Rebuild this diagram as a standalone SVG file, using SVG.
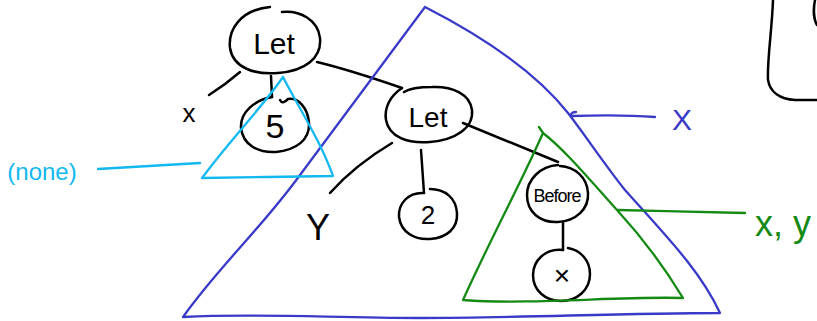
<svg xmlns="http://www.w3.org/2000/svg" width="817" height="321" viewBox="0 0 817 321">
<style>
.k{fill:none;stroke:#000;stroke-width:2.5;stroke-linecap:round;stroke-linejoin:round}
.b{fill:none;stroke:#3a3ac8;stroke-width:2.3;stroke-linecap:round;stroke-linejoin:round}
.c{fill:none;stroke:#12b8f0;stroke-width:2.3;stroke-linecap:round;stroke-linejoin:round}
.g{fill:none;stroke:#148a14;stroke-width:2.3;stroke-linecap:round;stroke-linejoin:round}
.t{font-family:"Liberation Sans",Arial,sans-serif;fill:#000}
</style>
<rect width="817" height="321" fill="#fff"/>
<g id="connectors">
<path class="k" d="M240,72 Q225,85 209,95"/>
<path class="k" d="M271,76 L272,97"/>
<path class="k" d="M317,62 Q350,70 402,88"/>
<path class="k" d="M392,143 Q355,165 330,193"/>
<path class="k" d="M421,150 L424,193"/>
<path class="k" d="M463,123 L558,162"/>
<path class="k" d="M563,223 L563,250"/>
</g>
<g id="let1">
<path class="k" d="M270,7 C240,10 228,30 230,48 C233,68 255,75 278,73 C305,71 322,58 320,38 C318,20 300,10 282,12"/>
<text class="t" x="274" y="54" font-size="30" text-anchor="middle">Let</text>
</g>
<g id="x-label"><text class="t" x="189" y="122" font-size="26" text-anchor="middle">x</text></g>
<g id="n5">
<path class="k" d="M272,97 C255,100 240,112 241,128 C243,145 258,153 276,152 C296,150 310,140 309,123 C308,108 298,97 288,99 C285,102 282,104 280,100"/>
<text class="t" x="275" y="138" font-size="34" text-anchor="middle">5</text>
</g>
<g id="let2">
<path class="k" d="M402,88 C390,96 384,108 386,120 C389,137 408,144 430,142 C455,140 474,128 472,110 C470,94 452,86 432,87 C420,87 410,88 404,92"/>
<text class="t" x="428" y="127" font-size="28" text-anchor="middle">Let</text>
</g>
<g id="y-label"><text class="t" x="318" y="240" font-size="36" text-anchor="middle">Y</text></g>
<g id="n2">
<path class="k" d="M424,193 C408,192 398,204 399,217 C401,232 414,240 430,239 C447,238 458,228 457,213 C456,198 445,189 430,189"/>
<text class="t" x="428" y="224" font-size="26" text-anchor="middle">2</text>
</g>
<g id="before">
<path class="k" d="M558,165 C540,166 527,180 527,195 C527,212 540,223 558,222 C576,221 589,209 588,193 C587,177 575,167 560,166"/>
<text class="t" x="557" y="202" font-size="18" text-anchor="middle" letter-spacing="-1">Before</text>
</g>
<g id="nx">
<path class="k" d="M563,250 C545,248 533,261 533,275 C533,291 546,301 561,301 C577,301 590,290 590,274 C590,260 580,250 568,248"/>
<text class="t" x="562" y="285" font-size="28" text-anchor="middle">×</text>
</g>
<g id="blue-region">
<path class="b" d="M425,7 L300,175 C260,230 220,265 183,317 C260,313 330,318 420,318 C520,318 620,313 720,313 C700,270 665,235 625,190 C605,165 585,135 568,113 C530,65 470,30 425,7"/>
<path class="b" d="M655,117 C630,115 600,115 572,116 C570,115 571,112 576,112"/>
<text x="682" y="130" font-family="Liberation Sans,Arial,sans-serif" font-size="30" fill="#3a3ac8" text-anchor="middle">X</text>
</g>
<g id="cyan-region">
<path class="c" d="M283,77 C260,110 230,140 202,178 C245,177 290,177 333,176 C320,140 300,110 283,77"/>
<path class="c" d="M98,169 C130,167 165,165 200,163"/>
<text x="42" y="180" font-family="Liberation Sans,Arial,sans-serif" font-size="24" fill="#12b8f0" text-anchor="middle">(none)</text>
</g>
<g id="green-region">
<path class="g" d="M539,127 L543,133 C520,185 490,240 463,300 C530,305 620,296 683,298 C660,260 640,235 617,210 C590,180 565,150 543,133"/>
<path class="g" d="M618,210 C660,211 705,212 745,213"/>
<text x="755" y="236" font-family="Liberation Sans,Arial,sans-serif" font-size="36" fill="#148a14">x, y</text>
</g>
<g id="edge-shape">
<path class="k" d="M773,0 C772,30 767,60 768,80 C770,92 780,99 795,100 L817,100"/>
<path class="k" d="M815,0 C813,10 814,20 817,25"/>
</g>
</svg>
